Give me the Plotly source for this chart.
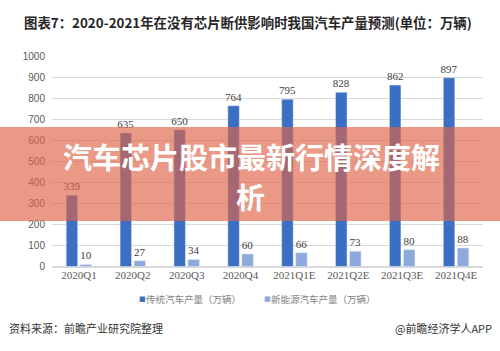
import plotly.graph_objects as go

categories = ["2020Q1", "2020Q2", "2020Q3", "2020Q4", "2021Q1E", "2021Q2E", "2021Q3E", "2021Q4E"]
traditional = [339, 635, 650, 764, 795, 828, 862, 897]
new_energy = [10, 27, 34, 60, 66, 73, 80, 88]
series_names = ["传统汽车产量（万辆）", "新能源汽车产量（万辆）"]
series_colors = ["#3A6FC3", "#8EA9DB"]
y_ticks = [0, 100, 200, 300, 400, 500, 600, 700, 800, 900, 1000]

W, H = 500, 351
def py(px):
    return (H - px) / H
def pxx(px):
    return px / W

fig = go.Figure()
for vals, name, col in [(traditional, series_names[0], series_colors[0]),
                        (new_energy, series_names[1], series_colors[1])]:
    fig.add_trace(go.Bar(
        x=categories, y=vals, name=name,
        marker_color=col,
        text=vals, textposition="outside", texttemplate="%{text}",
        constraintext="none",
        textfont=dict(family="Liberation Serif", size=11, color="#404040"),
        cliponaxis=False,
    ))

fig.update_layout(
    width=W, height=H,
    margin=dict(l=0, r=0, t=0, b=0),
    paper_bgcolor="white", plot_bgcolor="white",
    barmode="group", bargap=0.48, bargroupgap=0.18,
    uniformtext=dict(mode=False),
    showlegend=False,
    xaxis=dict(domain=[pxx(52), pxx(483)], showgrid=False, showline=False, ticks="",
               tickfont=dict(family="Liberation Serif", size=11, color="#595959")),
    yaxis=dict(domain=[py(270), py(52.7)], range=[0, 1000], tickvals=y_ticks,
               showgrid=True, gridcolor="#D9D9D9", gridwidth=1, zeroline=True,
               zerolinecolor="#D9D9D9", ticks="", ticklabelstandoff=6,
               tickfont=dict(family="Liberation Sans", size=10, color="#595959")),
    font=dict(family="Noto Sans CJK SC"),
)

# banner overlay
fig.add_shape(type="rect", xref="paper", yref="paper", x0=0, x1=1, y0=py(223), y1=py(126),
              fillcolor="rgba(222,100,72,0.66)", line=dict(width=0), layer="above")

annotations = [
    dict(text="<b>图表7：2020-2021年在没有芯片断供影响时我国汽车产量预测(单位：万辆)</b>",
         x=pxx(22), y=py(18), xanchor="left", yanchor="middle",
         font=dict(family="Noto Sans CJK SC", size=13.4, color="#262626")),
    dict(text="<b>汽车芯片股市最新行情深度解</b>", x=pxx(251), y=py(156), xanchor="center", yanchor="middle",
         font=dict(family="Noto Sans CJK SC", size=29, color="white")),
    dict(text="<b>析</b>", x=pxx(250), y=py(197), xanchor="center", yanchor="middle",
         font=dict(family="Noto Sans CJK SC", size=29, color="white")),
    # legend
    dict(text="■", x=pxx(137), y=py(303), xanchor="left", yanchor="middle",
         font=dict(family="DejaVu Sans", size=7, color=series_colors[0])),
    dict(text=series_names[0], x=pxx(144), y=py(303), xanchor="left", yanchor="middle",
         font=dict(family="Noto Sans CJK SC", size=9.5, color="#7f7f7f")),
    dict(text="■", x=pxx(262), y=py(303), xanchor="left", yanchor="middle",
         font=dict(family="DejaVu Sans", size=7, color=series_colors[1])),
    dict(text=series_names[1], x=pxx(269), y=py(303), xanchor="left", yanchor="middle",
         font=dict(family="Noto Sans CJK SC", size=9.5, color="#7f7f7f")),
    # source
    dict(text="资料来源：前瞻产业研究院整理", x=pxx(7), y=py(333), xanchor="left", yanchor="middle",
         font=dict(family="Noto Sans CJK SC", size=11, color="#333333")),
    dict(text="@前瞻经济学人APP", x=pxx(494), y=py(333), xanchor="right", yanchor="middle",
         font=dict(family="Noto Sans CJK SC", size=11, color="#333333")),
]
for a in annotations:
    fig.add_annotation(xref="paper", yref="paper", showarrow=False, **a)

fig.write_html("out.html")
